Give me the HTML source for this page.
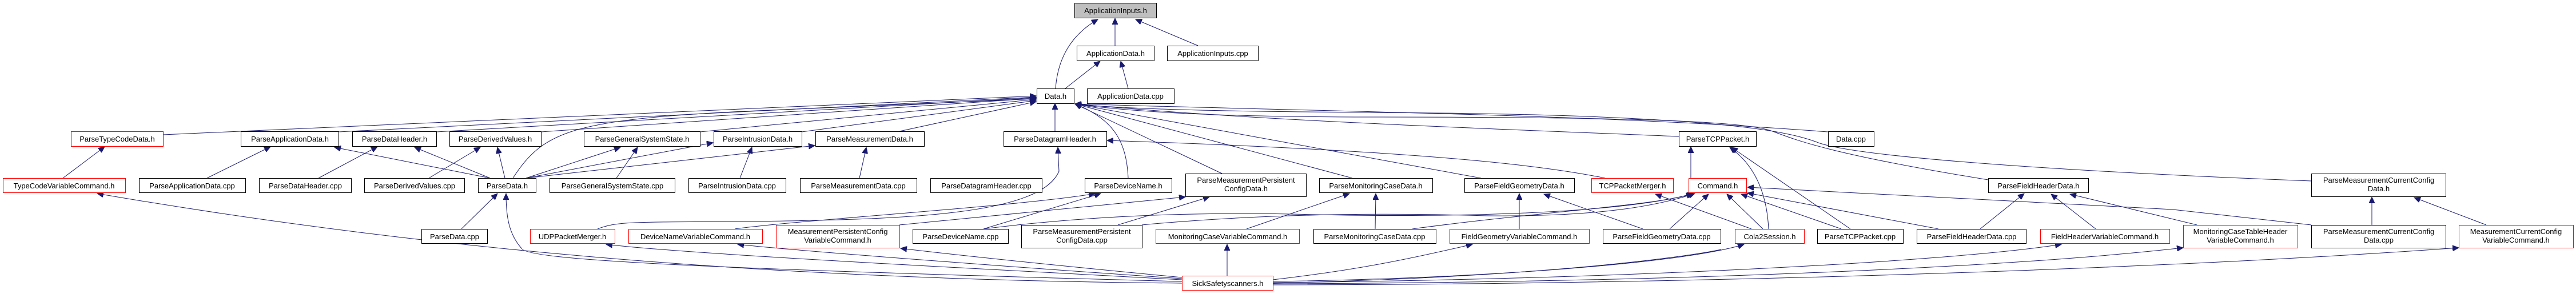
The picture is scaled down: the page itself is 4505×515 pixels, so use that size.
<!DOCTYPE html>
<html><head><meta charset="utf-8"><style>
html,body{margin:0;padding:0;background:#fff;}
svg{display:block}
text{font-family:"Liberation Sans",sans-serif;font-size:13px;fill:#000;text-anchor:middle}
.b{fill:#fff;stroke:#000;stroke-width:1}
.r{fill:#fff;stroke:#ff0000;stroke-width:1}
.g{fill:#bfbfbf;stroke:#000;stroke-width:1}
.e{fill:none;stroke:#191970;stroke-width:1}
</style></head><body>
<svg width="4505" height="515" viewBox="0 0 4505 515" xmlns="http://www.w3.org/2000/svg">
<defs><marker id="a" markerUnits="userSpaceOnUse" markerWidth="12" markerHeight="10" refX="11" refY="5" orient="auto"><path d="M0,0 L11,5 L0,10 z" fill="#191970" stroke="#191970"/></marker></defs>
<g marker-end="url(#a)">
<path class="e" d="M1846,155 C1850,100 1875,60 1920,34"/>
<path class="e" d="M1950,80 L1950,32"/>
<path class="e" d="M2095,80 L1986,34"/>
<path class="e" d="M1863,155 L1924,107"/>
<path class="e" d="M1973,155 L1960,107"/>
<path class="e" d="M285,236 L1812,168"/>
<path class="e" d="M592,231 L1812,170"/>
<path class="e" d="M763,231 L1812,171"/>
<path class="e" d="M946,231 L1812,172"/>
<path class="e" d="M897,312 C950,230 1000,210 1300,195 L1812,173"/>
<path class="e" d="M1224,231 L1812,174"/>
<path class="e" d="M1402,231 L1812,176"/>
<path class="e" d="M1573,230 L1812,178"/>
<path class="e" d="M1845,230 L1845,181"/>
<path class="e" d="M1973,312 C1970,250 1950,210 1880,182"/>
<path class="e" d="M2137,304 L1880,182"/>
<path class="e" d="M2365,312 L1880,182"/>
<path class="e" d="M2590,312 L1880,182"/>
<path class="e" d="M2936,239 C2600,225 2200,212 1880,182"/>
<path class="e" d="M3197,231 C2800,200 2300,195 1880,182"/>
<path class="e" d="M3477,315 C3200,270 3140,245 3100,230 C3050,210 2800,205 2400,205 C2200,205 2000,200 1880,182"/>
<path class="e" d="M4042,317 C3600,300 3250,275 3180,250 C3130,230 3000,200 2400,197 C2100,195 1950,190 1880,182"/>
<path class="e" d="M2807,312 C2700,290 2500,265 1936,246"/>
<path class="e" d="M110,312 L183,257"/>
<path class="e" d="M362,312 L473,257"/>
<path class="e" d="M857,312 L585,258"/>
<path class="e" d="M557,312 L660,257"/>
<path class="e" d="M857,312 L725,258"/>
<path class="e" d="M750,312 L840,258"/>
<path class="e" d="M883,312 L870,258"/>
<path class="e" d="M1078,312 L1115,258"/>
<path class="e" d="M920,312 L1085,258"/>
<path class="e" d="M920,312 L1247,250"/>
<path class="e" d="M1294,312 L1315,258"/>
<path class="e" d="M920,312 L1425,255"/>
<path class="e" d="M1503,312 L1515,258"/>
<path class="e" d="M807,401 L870,339"/>
<path class="e" d="M2067,493 C1200,470 920,455 912,435 C890,410 885,380 885,339"/>
<path class="e" d="M2067,496 C1300,490 700,430 170,339"/>
<path class="e" d="M1045,401 C1080,388 1100,389 1300,388 C1600,385 1820,375 1852,300 L1850,258"/>
<path class="e" d="M1285,401 C1400,385 1800,360 1915,339"/>
<path class="e" d="M1720,401 L1925,339"/>
<path class="e" d="M1573,394 L2073,345"/>
<path class="e" d="M1955,394 L2115,345"/>
<path class="e" d="M2180,401 L2360,339"/>
<path class="e" d="M2405,401 L2406,339"/>
<path class="e" d="M2470,401 C2700,370 2900,360 2960,339"/>
<path class="e" d="M1720,401 C1900,378 2100,370 2300,376 C2600,382 2850,370 2962,339"/>
<path class="e" d="M1997,394 C2200,375 2400,372 2600,378 C2800,380 2900,360 2964,339"/>
<path class="e" d="M2657,401 L2657,339"/>
<path class="e" d="M2873,401 L2700,340"/>
<path class="e" d="M2920,401 L2988,340"/>
<path class="e" d="M3083,401 L3020,340"/>
<path class="e" d="M3093,401 C3090,340 3070,290 3025,258"/>
<path class="e" d="M3063,401 L2895,340"/>
<path class="e" d="M3236,401 L3028,258"/>
<path class="e" d="M3220,401 L3045,340"/>
<path class="e" d="M2957,312 L2957,257"/>
<path class="e" d="M3390,401 L3056,338"/>
<path class="e" d="M3463,401 L3540,339"/>
<path class="e" d="M3665,401 L3587,340"/>
<path class="e" d="M3842,394 L3620,340"/>
<path class="e" d="M4042,394 L3800,367 L3056,328"/>
<path class="e" d="M4148,394 L4148,345"/>
<path class="e" d="M4348,394 L4222,346"/>
<path class="e" d="M2067,490 C1700,470 1200,445 1060,428"/>
<path class="e" d="M2067,488 C1800,470 1400,440 1290,428"/>
<path class="e" d="M2067,486 C1900,470 1700,450 1575,435"/>
<path class="e" d="M2146,483 L2146,428"/>
<path class="e" d="M2226,490 C2400,470 2500,445 2575,428"/>
<path class="e" d="M2226,493 C2600,488 2950,460 3050,428"/>
<path class="e" d="M2226,495 C2800,490 3400,460 3605,428"/>
<path class="e" d="M2226,497 C2900,495 3500,470 3818,434"/>
<path class="e" d="M2226,499 C3000,498 3800,470 4300,434"/>
</g>
<path class="e" d="M2226,496 C2700,485 2950,450 3010,437"/>
<!-- nodes -->
<rect class="g" x="1879.5" y="5.5" width="143" height="26"/><text x="1951" y="23">ApplicationInputs.h</text>
<rect class="b" x="1883.5" y="80.5" width="135" height="26"/><text x="1951" y="98">ApplicationData.h</text>
<rect class="b" x="2041.5" y="80.5" width="159" height="26"/><text x="2121" y="98">ApplicationInputs.cpp</text>
<rect class="b" x="1813.5" y="155.5" width="65" height="26"/><text x="1846" y="173">Data.h</text>
<rect class="b" x="1901.5" y="155.5" width="152" height="26"/><text x="1977" y="173">ApplicationData.cpp</text>
<rect class="r" x="124.5" y="230.5" width="161" height="26"/><text x="205" y="248">ParseTypeCodeData.h</text>
<rect class="b" x="421.5" y="230.5" width="171" height="26"/><text x="507" y="248">ParseApplicationData.h</text>
<rect class="b" x="616.5" y="230.5" width="147" height="26"/><text x="690" y="248">ParseDataHeader.h</text>
<rect class="b" x="786.5" y="230.5" width="160" height="26"/><text x="866" y="248">ParseDerivedValues.h</text>
<rect class="b" x="1021.5" y="230.5" width="203" height="26"/><text x="1123" y="248">ParseGeneralSystemState.h</text>
<rect class="b" x="1248.5" y="230.5" width="154" height="26"/><text x="1325" y="248">ParseIntrusionData.h</text>
<rect class="b" x="1426.5" y="230.5" width="190" height="26"/><text x="1521" y="248">ParseMeasurementData.h</text>
<rect class="b" x="1755.5" y="230.5" width="180" height="26"/><text x="1845" y="248">ParseDatagramHeader.h</text>
<rect class="b" x="2936.5" y="230.5" width="135" height="26"/><text x="3004" y="248">ParseTCPPacket.h</text>
<rect class="b" x="3197.5" y="230.5" width="80" height="26"/><text x="3237" y="248">Data.cpp</text>
<rect class="r" x="5.5" y="312.5" width="214" height="25"/><text x="112" y="330">TypeCodeVariableCommand.h</text>
<rect class="b" x="243.5" y="312.5" width="186" height="25"/><text x="336" y="330">ParseApplicationData.cpp</text>
<rect class="b" x="453.5" y="312.5" width="161" height="25"/><text x="534" y="330">ParseDataHeader.cpp</text>
<rect class="b" x="637.5" y="312.5" width="175" height="25"/><text x="725" y="330">ParseDerivedValues.cpp</text>
<rect class="b" x="836.5" y="312.5" width="101" height="25"/><text x="887" y="330">ParseData.h</text>
<rect class="b" x="961.5" y="312.5" width="219" height="25"/><text x="1071" y="330">ParseGeneralSystemState.cpp</text>
<rect class="b" x="1204.5" y="312.5" width="170" height="25"/><text x="1289" y="330">ParseIntrusionData.cpp</text>
<rect class="b" x="1399.5" y="312.5" width="204" height="25"/><text x="1501" y="330">ParseMeasurementData.cpp</text>
<rect class="b" x="1627.5" y="312.5" width="195" height="25"/><text x="1725" y="330">ParseDatagramHeader.cpp</text>
<rect class="b" x="1897.5" y="312.5" width="152" height="25"/><text x="1973" y="330">ParseDeviceName.h</text>
<rect class="b" x="2073.5" y="304.5" width="211" height="40"/><text x="2179" y="320">ParseMeasurementPersistent</text><text x="2179" y="335">ConfigData.h</text>
<rect class="b" x="2307.5" y="312.5" width="198" height="25"/><text x="2406" y="330">ParseMonitoringCaseData.h</text>
<rect class="b" x="2561.5" y="312.5" width="192" height="25"/><text x="2657" y="330">ParseFieldGeometryData.h</text>
<rect class="r" x="2783.5" y="312.5" width="143" height="25"/><text x="2855" y="330">TCPPacketMerger.h</text>
<rect class="r" x="2953.5" y="312.5" width="101" height="25"/><text x="3004" y="330">Command.h</text>
<rect class="b" x="3477.5" y="312.5" width="175" height="25"/><text x="3565" y="330">ParseFieldHeaderData.h</text>
<rect class="b" x="4042.5" y="304.5" width="235" height="40"/><text x="4160" y="320">ParseMeasurementCurrentConfig</text><text x="4160" y="335">Data.h</text>
<rect class="b" x="737.5" y="401.5" width="115" height="25"/><text x="795" y="419">ParseData.cpp</text>
<rect class="r" x="927.5" y="401.5" width="148" height="25"/><text x="1001" y="419">UDPPacketMerger.h</text>
<rect class="r" x="1099.5" y="401.5" width="234" height="25"/><text x="1216" y="419">DeviceNameVariableCommand.h</text>
<rect class="r" x="1357.5" y="394.5" width="216" height="40"/><text x="1465" y="410">MeasurementPersistentConfig</text><text x="1465" y="425">VariableCommand.h</text>
<rect class="b" x="1596.5" y="401.5" width="167" height="25"/><text x="1680" y="419">ParseDeviceName.cpp</text>
<rect class="b" x="1786.5" y="394.5" width="211" height="40"/><text x="1892" y="410">ParseMeasurementPersistent</text><text x="1892" y="425">ConfigData.cpp</text>
<rect class="r" x="2021.5" y="401.5" width="251" height="25"/><text x="2147" y="419">MonitoringCaseVariableCommand.h</text>
<rect class="b" x="2297.5" y="401.5" width="214" height="25"/><text x="2404" y="419">ParseMonitoringCaseData.cpp</text>
<rect class="r" x="2535.5" y="401.5" width="244" height="25"/><text x="2657" y="419">FieldGeometryVariableCommand.h</text>
<rect class="b" x="2803.5" y="401.5" width="206" height="25"/><text x="2906" y="419">ParseFieldGeometryData.cpp</text>
<rect class="r" x="3034.5" y="401.5" width="121" height="25"/><text x="3095" y="419">Cola2Session.h</text>
<rect class="b" x="3178.5" y="401.5" width="150" height="25"/><text x="3253" y="419">ParseTCPPacket.cpp</text>
<rect class="b" x="3352.5" y="401.5" width="191" height="25"/><text x="3448" y="419">ParseFieldHeaderData.cpp</text>
<rect class="r" x="3568.5" y="401.5" width="226" height="25"/><text x="3681" y="419">FieldHeaderVariableCommand.h</text>
<rect class="r" x="3818.5" y="394.5" width="200" height="40"/><text x="3918" y="410">MonitoringCaseTableHeader</text><text x="3918" y="425">VariableCommand.h</text>
<rect class="b" x="4042.5" y="394.5" width="235" height="40"/><text x="4160" y="410">ParseMeasurementCurrentConfig</text><text x="4160" y="425">Data.cpp</text>
<rect class="r" x="4300.5" y="394.5" width="200" height="40"/><text x="4400" y="410">MeasurementCurrentConfig</text><text x="4400" y="425">VariableCommand.h</text>
<rect class="r" x="2067.5" y="483.5" width="159" height="25"/><text x="2147" y="501">SickSafetyscanners.h</text>
</svg>
</body></html>
